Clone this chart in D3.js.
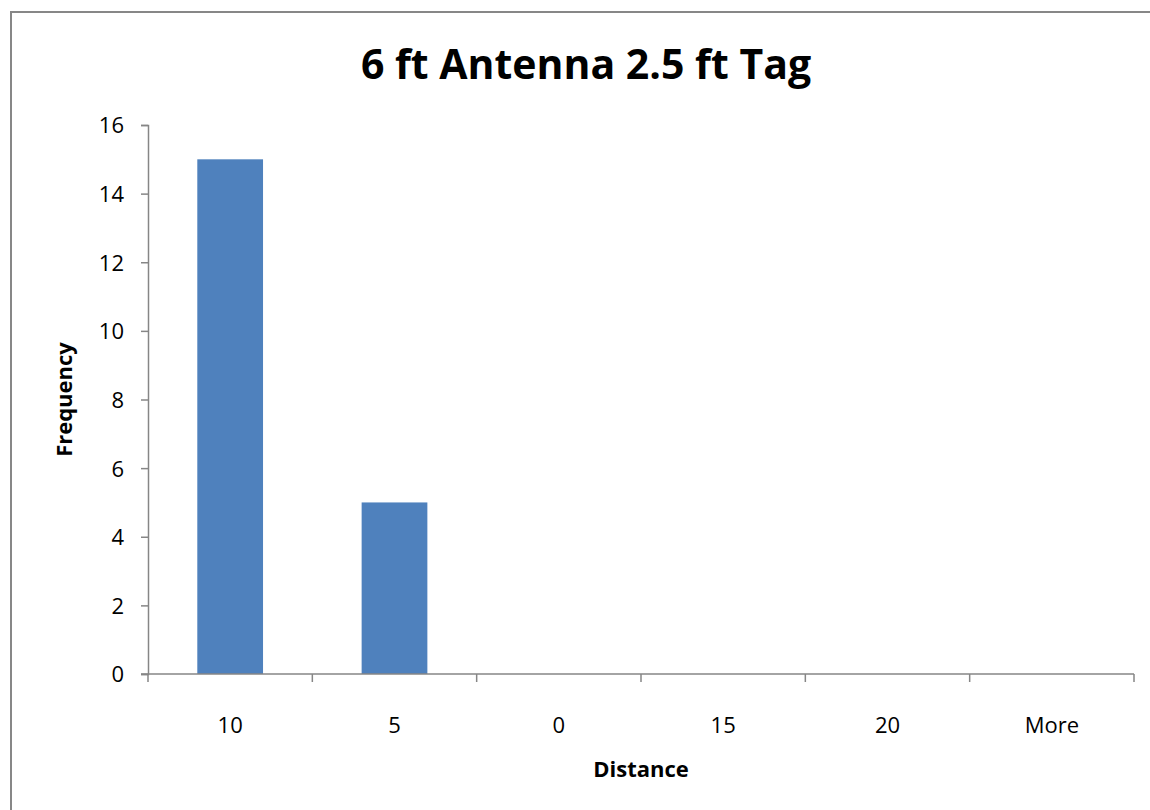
<!DOCTYPE html>
<html>
<head>
<meta charset="utf-8">
<script src="https://cdn.jsdelivr.net/npm/d3@7"></script>
<style>
  html, body { margin: 0; padding: 0; background: #fff; }
  svg { display: block; }
  text { font-family: "Open Sans", Lato, sans-serif; fill: #000; }
</style>
</head>
<body>
<svg id="chart" width="1150" height="810"></svg>
<script>
// Histogram bins and their counts
const categories = ["10", "5", "0", "15", "20", "More"];
const frequency = [15, 5, 0, 0, 0, 0];
const yTicks = [0, 2, 4, 6, 8, 10, 12, 14, 16];
const chartTitle = "6 ft Antenna 2.5 ft Tag";
const xTitle = "Distance";
const yTitle = "Frequency";

const svg = d3.select("#chart");
const W = 1150, H = 810;
const plot = { left: 148, right: 1134, top: 125, bottom: 674 };
const axisColor = "#868686";
const font = "'Open Sans', Lato, sans-serif";

// Chart area border
svg.append("rect")
  .attr("x", 11).attr("y", 12)
  .attr("width", W + 20).attr("height", H + 20)
  .attr("fill", "#fff")
  .attr("stroke", "#878787")
  .attr("stroke-width", 2);

const x = d3.scaleBand()
  .domain(categories)
  .range([plot.left, plot.right])
  .paddingInner(0.6)
  .paddingOuter(0.3);

const xEdges = d3.scaleLinear()
  .domain([0, categories.length])
  .range([plot.left, plot.right]);

const y = d3.scaleLinear()
  .domain([0, 16])
  .range([plot.bottom, plot.top]);

// Bars
svg.append("g").selectAll("rect")
  .data(categories.map((c, i) => ({ c, v: frequency[i] })))
  .join("rect")
  .attr("x", d => x(d.c))
  .attr("width", x.bandwidth())
  .attr("y", d => y(d.v))
  .attr("height", d => y(0) - y(d.v))
  .attr("fill", "#4F81BD");

// Y axis
const yAxis = svg.append("g")
  .attr("transform", `translate(${plot.left},0)`)
  .call(d3.axisLeft(y).tickValues(yTicks).tickSize(7).tickPadding(17).tickFormat(d3.format("d")));
yAxis.select(".domain").attr("stroke", axisColor).attr("stroke-width", 1.5);
yAxis.selectAll(".tick line").attr("stroke", axisColor).attr("stroke-width", 1.5);
yAxis.selectAll(".tick text")
  .attr("font-size", 22)
  .attr("dy", "0.36em")
  .style("font-family", font)
  .style("fill", "#000");

// X axis: category labels centred in bins, tick marks on bin edges
const xg = svg.append("g").attr("transform", `translate(0,${plot.bottom})`);
xg.append("line")
  .attr("x1", plot.left - 7).attr("x2", plot.right)
  .attr("stroke", axisColor).attr("stroke-width", 1.5);
xg.selectAll("line.edge")
  .data(d3.range(categories.length + 1))
  .join("line")
  .attr("class", "edge")
  .attr("x1", i => xEdges(i)).attr("x2", i => xEdges(i))
  .attr("y1", 0).attr("y2", 8)
  .attr("stroke", axisColor).attr("stroke-width", 1.5);
xg.selectAll("text")
  .data(categories)
  .join("text")
  .attr("x", d => x(d) + x.bandwidth() / 2)
  .attr("y", 59)
  .attr("text-anchor", "middle")
  .attr("font-size", 22)
  .text(d => d);

// Titles
svg.append("text")
  .attr("x", 586).attr("y", 79)
  .attr("text-anchor", "middle")
  .attr("font-size", 41)
  .attr("font-weight", "bold")
  .text(chartTitle);

svg.append("text")
  .attr("x", (plot.left + plot.right) / 2).attr("y", 777)
  .attr("text-anchor", "middle")
  .attr("font-size", 22)
  .attr("font-weight", "bold")
  .text(xTitle);

svg.append("text")
  .attr("transform", `translate(72,${(plot.top + plot.bottom) / 2}) rotate(-90)`)
  .attr("text-anchor", "middle")
  .attr("font-size", 22)
  .attr("font-weight", "bold")
  .text(yTitle);
</script>
</body>
</html>
